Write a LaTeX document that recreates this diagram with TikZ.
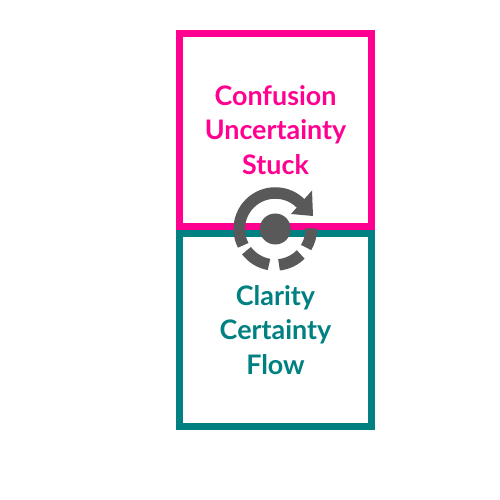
\documentclass[tikz,border=0pt]{standalone}
\usepackage{fontspec}
\setmainfont{Lato}
\usepackage{tikz}
\usetikzlibrary{positioning}
\definecolor{stuckpink}{HTML}{FF0090}
\definecolor{flowteal}{HTML}{008080}
\definecolor{icongray}{HTML}{595959}

\begin{document}
\begin{tikzpicture}[
    statebox/.style={draw, rectangle, minimum width=3.84cm, minimum height=3.85cm, line width=0.134cm, align=center, font=\fontsize{15.3}{19.6}\selectfont\bfseries},
    stuckbox/.style={statebox, draw=stuckpink, text=stuckpink},
    flowbox/.style={statebox, draw=flowteal, text=flowteal},
    iconarc/.style={draw=icongray, line width=0.23cm}
]
\useasboundingbox (0,0) rectangle (10,10);

% ===== Cuadros =====
\node[stuckbox] (stuck) at (5.51,7.40) {Confusion\\Uncertainty\\Stuck};
\node[flowbox] (flow) at (5.51,3.40) {Clarity\\Certainty\\Flow};

% ===== Icono central =====
\coordinate (iconc) at (5.505,5.42);
\node[circle, fill=icongray, minimum size=0.62cm, inner sep=0pt] (hub) at (iconc) {};
\draw[iconarc] ([shift={(207:0.72)}]iconc) arc (207:36:0.72);
\draw[iconarc] ([shift={(1:0.72)}]iconc) arc (1:-31:0.72);
\draw[iconarc] ([shift={(-45:0.72)}]iconc) arc (-45:-84:0.72);
\draw[iconarc] ([shift={(-100:0.72)}]iconc) arc (-100:-143:0.72);
\fill[icongray] (6.24,6.19) -- (6.26,5.68) -- (5.82,5.72) -- cycle;

\end{tikzpicture}
\end{document}
